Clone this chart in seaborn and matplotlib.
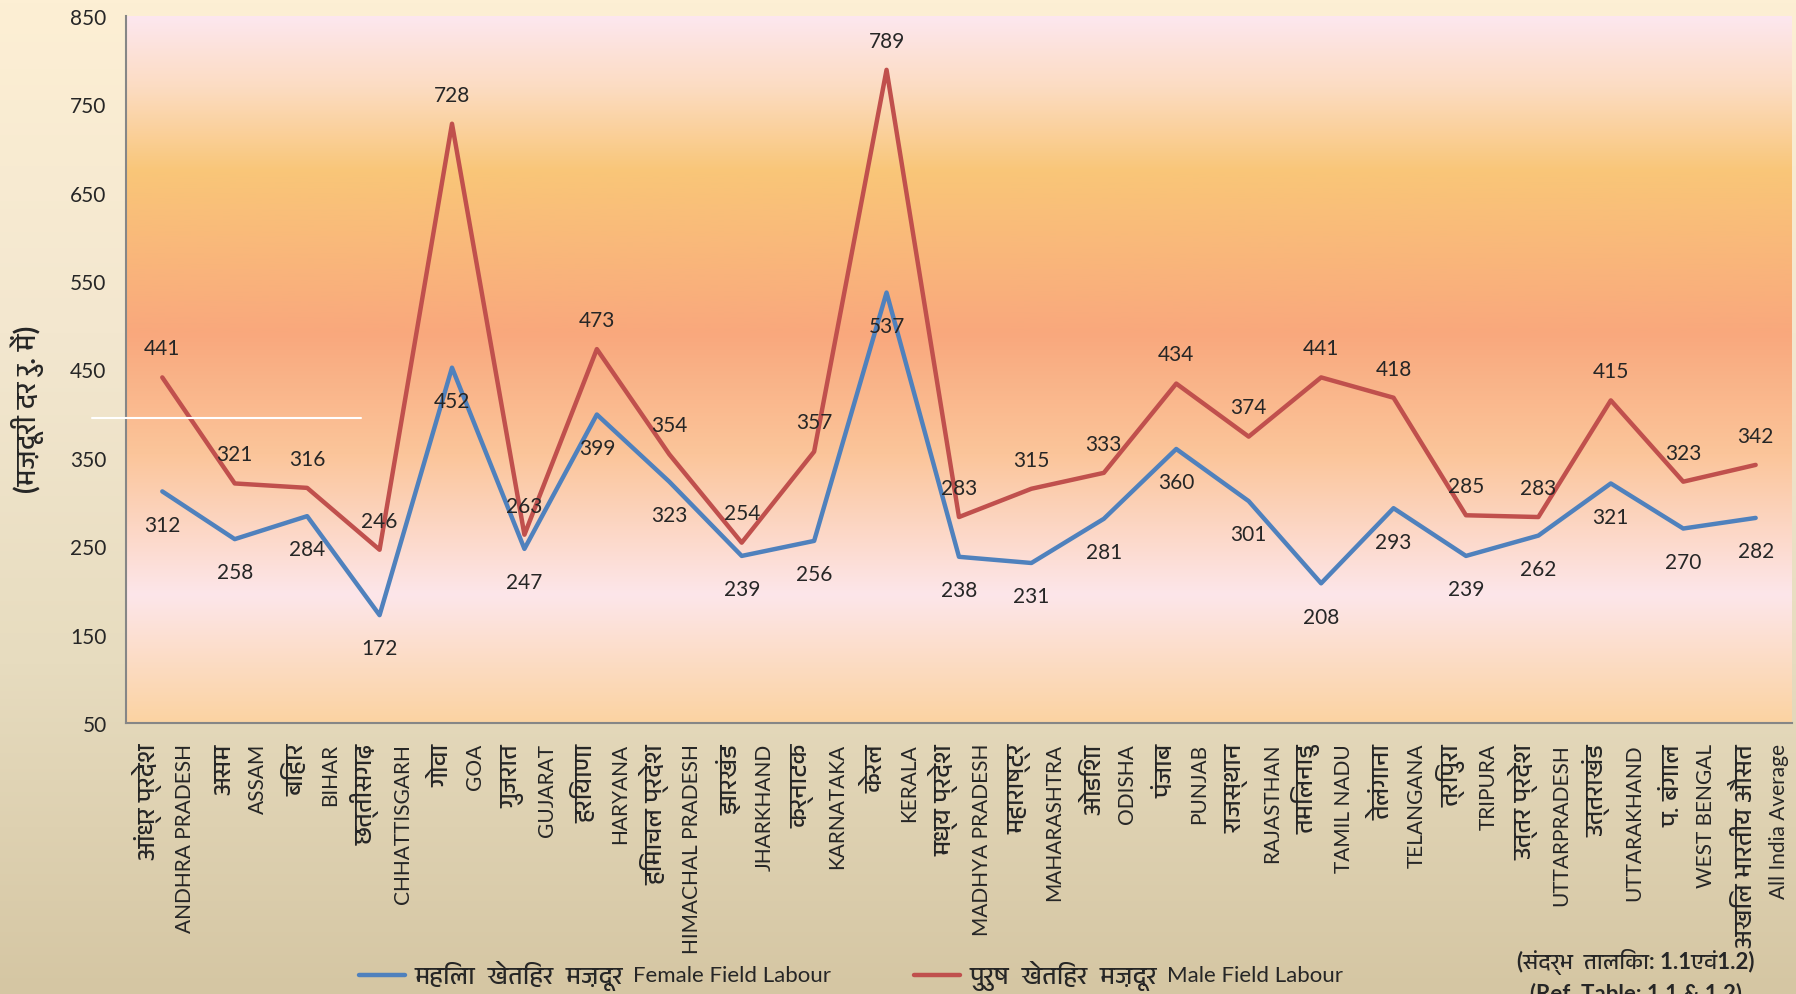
# -*- coding: utf-8 -*-
import numpy as np
import pandas as pd
import matplotlib
matplotlib.use('Agg')
import matplotlib.pyplot as plt
import matplotlib.transforms as mtransforms
from matplotlib import font_manager
from matplotlib.ft2font import FT2Font
from matplotlib.colors import LinearSegmentedColormap
from matplotlib.lines import Line2D
from matplotlib.offsetbox import AnchoredOffsetbox, HPacker, TextArea, DrawingArea
import seaborn as sns

# data
states_hi = ['आंध्र प्रदेश', 'असम', 'बिहार', 'छत्तीसगढ़', 'गोवा', 'गुजरात', 'हरियाणा',
             'हिमाचल प्रदेश', 'झारखंड', 'कर्नाटक', 'केरल', 'मध्य प्रदेश', 'महाराष्ट्र',
             'ओडिशा', 'पंजाब', 'राजस्थान', 'तमिलनाडु', 'तेलंगाना', 'त्रिपुरा',
             'उत्तर प्रदेश', 'उत्तराखंड', 'प. बंगाल', 'अखिल भारतीय औसत']
states_en = ['ANDHRA PRADESH', 'ASSAM', 'BIHAR', 'CHHATTISGARH', 'GOA', 'GUJARAT', 'HARYANA',
             'HIMACHAL PRADESH', 'JHARKHAND', 'KARNATAKA', 'KERALA', 'MADHYA PRADESH',
             'MAHARASHTRA', 'ODISHA', 'PUNJAB', 'RAJASTHAN', 'TAMIL NADU', 'TELANGANA',
             'TRIPURA', 'UTTARPRADESH', 'UTTARAKHAND', 'WEST BENGAL', 'All India Average']
female = [312, 258, 284, 172, 452, 247, 399, 323, 239, 256, 537, 238, 231, 281, 360,
          301, 208, 293, 239, 262, 321, 270, 282]
male = [441, 321, 316, 246, 728, 263, 473, 354, 254, 357, 789, 283, 315, 333, 434,
        374, 441, 418, 285, 283, 415, 323, 342]
female_hi, female_en = 'महिला  खेतिहर  मज़दूर', 'Female Field Labour'
male_hi, male_en = 'पुरुष  खेतिहर  मज़दूर', 'Male Field Labour'
y_ticks = [50, 150, 250, 350, 450, 550, 650, 750, 850]


def find_devanagari_font():
    # look for any installed font that has Devanagari glyphs
    best = None
    for f in font_manager.fontManager.ttflist:
        try:
            if 0x0915 in FT2Font(f.fname).get_charmap():
                if 'Devanagari' in f.name:
                    return f.name
                if best is None:
                    best = f.name
        except Exception:
            pass
    return best


sns.set_style('white')
dev_font = find_devanagari_font()
families = ['Lato']
if dev_font:
    families.append(dev_font)
families.append('DejaVu Sans')
plt.rcParams['font.family'] = families

df = pd.DataFrame({
    'state': states_en * 2,
    'wage': female + male,
    'series': [female_en] * len(states_en) + [male_en] * len(states_en),
})

fig = plt.figure(figsize=(17.96, 9.95), dpi=100)

# figure background gradient
bg = fig.add_axes([0, 0, 1, 1], zorder=-10)
bg_cmap = LinearSegmentedColormap.from_list('bg', ['#fdefd4', '#f3e7cf', '#e7dcbf', '#d5c6a3'])
bg.imshow(np.linspace(0, 1, 256).reshape(-1, 1), cmap=bg_cmap, aspect='auto',
          extent=(0, 1, 0, 1), origin='upper')
bg.axis('off')

ax = fig.add_axes([0.0702, 0.2724, 0.9275, 0.7106])
sns.lineplot(data=df, x='state', y='wage', hue='series', sort=False, legend=False,
             palette=['#4f81bd', '#c0504d'], linewidth=3.2, ax=ax, zorder=3)

n = len(states_en)
ax.set_xlim(-0.5, n - 0.5)
ax.set_ylim(50, 850)

# plot area gradient
pa_cmap = LinearSegmentedColormap.from_list('pa', [
    (0.0, '#fde7ef'), (0.10, '#fcdcc2'), (0.22, '#f9c678'), (0.45, '#f9a87d'),
    (0.62, '#fbc59a'), (0.82, '#fde6ea'), (1.0, '#fbd3a2')])
ax.imshow(np.linspace(0, 1, 256).reshape(-1, 1), cmap=pa_cmap, aspect='auto',
          extent=(-0.5, n - 0.5, 50, 850), origin='upper', zorder=0)

for i in range(n):
    ax.annotate(str(male[i]), (i, male[i]), xytext=(0, 21), textcoords='offset points',
                ha='center', va='center', fontsize=15, zorder=5)
    ax.annotate(str(female[i]), (i, female[i]), xytext=(0, -24), textcoords='offset points',
                ha='center', va='center', fontsize=15, zorder=5)

ax.set_yticks(y_ticks)
ax.set_xticks(range(n))
ax.set_xticklabels([])
ax.tick_params(axis='both', length=0, labelsize=15)
ax.tick_params(axis='y', pad=14)
ax.set_xlabel('')
ax.set_ylabel('')

# two-line category labels: hindi left of the tick, english right of it
base = mtransforms.blended_transform_factory(ax.transData, ax.transAxes)
tr_hi = base + mtransforms.ScaledTranslation(0 / 100, -20 / 100, fig.dpi_scale_trans)
tr_en = base + mtransforms.ScaledTranslation(13 / 100, -20 / 100, fig.dpi_scale_trans)
for i in range(n):
    ax.text(i, 0, states_hi[i], transform=tr_hi, rotation=90, ha='right', va='top',
            fontsize=18, clip_on=False)
    ax.text(i, 0, states_en[i], transform=tr_en, rotation=90, ha='left', va='top',
            fontsize=15, clip_on=False)

for s in ['top', 'right']:
    ax.spines[s].set_visible(False)
for s in ['left', 'bottom']:
    ax.spines[s].set_color('#868686')
    ax.spines[s].set_linewidth(1.5)
ax.patch.set_alpha(0)


def legend_item(color, hi, en):
    da = DrawingArea(33, 10, 0, 0)
    da.add_artist(Line2D([0, 33], [5, 5], color=color, lw=3.2))
    return HPacker(children=[da, TextArea(hi, textprops=dict(fontsize=18)),
                             TextArea(en, textprops=dict(fontsize=16))],
                   align='center', pad=0, sep=7)


lines = ax.get_lines()
leg_box = HPacker(children=[legend_item(lines[0].get_color(), female_hi, female_en),
                            legend_item(lines[1].get_color(), male_hi, male_en)],
                  align='center', pad=0, sep=60)
fig.add_artist(AnchoredOffsetbox(loc='center', child=leg_box, frameon=False, pad=0,
                                 bbox_to_anchor=(0.474, 0.019),
                                 bbox_transform=fig.transFigure))

fig.text(0.015, 0.589, '(मज़दूरी दर रु. में)', rotation=90, ha='center', va='center',
         fontsize=20, fontweight='bold')
fig.text(0.911, 0.033, '(संदर्भ  तालिका: 1.1एवं1.2)', ha='center', va='center',
         fontsize=16, fontweight='bold')
fig.text(0.911, 0.001, '(Ref. Table: 1.1 & 1.2)', ha='center', va='center',
         fontsize=16, fontweight='bold')

# stray white stroke in the original picture
fig.add_artist(Line2D([0.051, 0.201], [0.579, 0.579], color='white', lw=1.5))

fig.savefig('out.png', dpi=100)
